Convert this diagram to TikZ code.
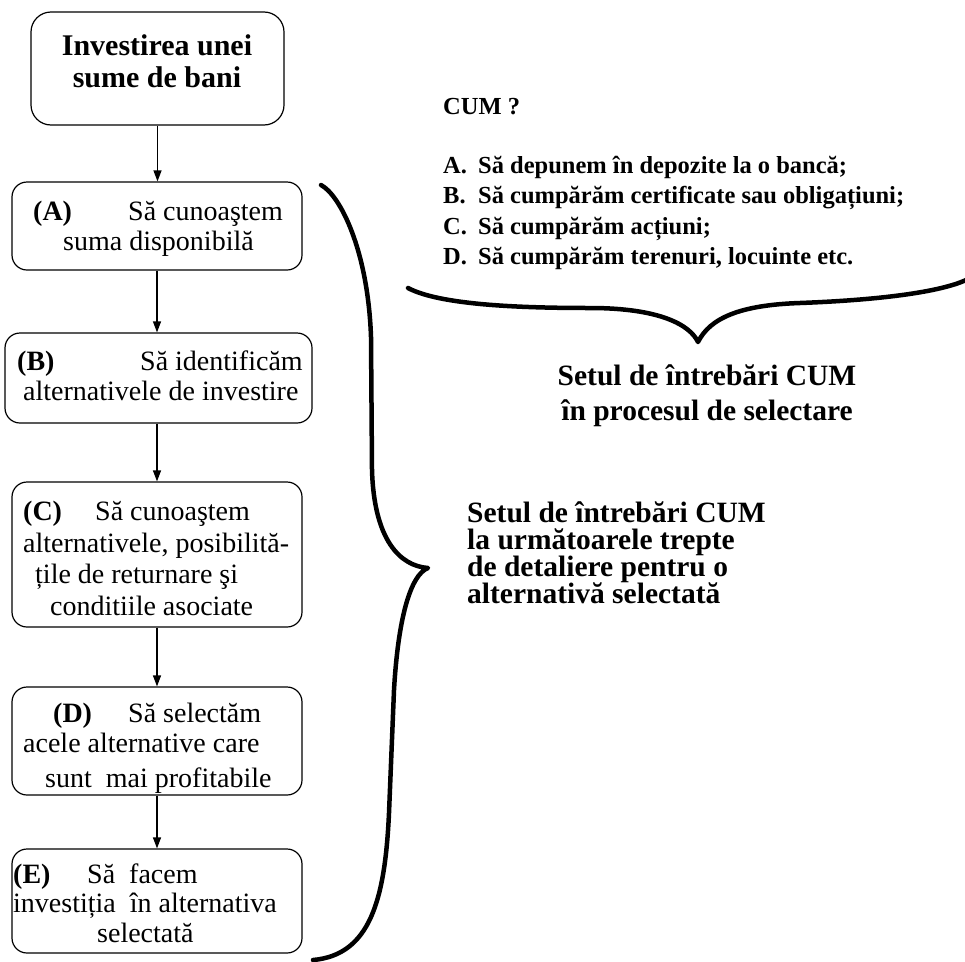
\documentclass[tikz,border=0pt]{standalone}
\usepackage{fontspec}
\setmainfont{Liberation Serif}
\usetikzlibrary{arrows.meta}

\tikzset{
  flowbox/.style={draw, line width=1.2pt, rounded corners=15pt, inner sep=0pt},
  arr/.style={line width=1.2pt, -{Triangle[length=11pt,width=8pt]}},
  brace/.style={line width=4.5pt, line cap=round, line join=round},
  boxtxt/.style={inner sep=0pt, font=\fontsize{28}{31}\selectfont},
  boxlbl/.style={inner sep=0pt, font=\fontsize{28}{31}\selectfont\bfseries},
  titletxt/.style={inner sep=0pt, font=\fontsize{30}{32}\selectfont\bfseries},
  listtxt/.style={inner sep=0pt, font=\fontsize{24.5}{30}\selectfont\bfseries},
  bigtxt/.style={inner sep=0pt, font=\fontsize{29.5}{30}\selectfont\bfseries},
}

\begin{document}
\begin{tikzpicture}[x=1pt, y=-1pt]
\useasboundingbox (0,0) rectangle (965,961);

% flow of boxes on the left
\node[flowbox, rounded corners=20pt, minimum width=253pt, minimum height=113pt] (top) at (157.5,68.5) {};
\node[flowbox, minimum width=290pt, minimum height=88pt]  (bA) at (157,226) {};
\node[flowbox, minimum width=307pt, minimum height=90pt]  (bB) at (158.5,378) {};
\node[flowbox, minimum width=290pt, minimum height=145pt] (bC) at (157,554.5) {};
\node[flowbox, minimum width=290pt, minimum height=104pt] (bE) at (157,901) {};

% title box text
\node[titletxt, anchor=base] (t1) at (157,55) {Investirea unei};
\node[titletxt, anchor=base] (t2) at (157,87) {sume de bani};

% box A
\node[boxlbl, anchor=base west] (a0) at (33,220) {(A)};
\node[boxtxt, anchor=base west] (a1) at (128,220) {Să cunoaştem};
\node[boxtxt, anchor=base west] (a2) at (63,250) {suma disponibilă};

% box B
\node[boxlbl, anchor=base west] (b0) at (17,370) {(B)};
\node[boxtxt, anchor=base west] (b1) at (140,370) {Să identificăm};
\node[boxtxt, anchor=base west] (b2) at (23,400) {alternativele de investire};

% box C
\node[boxlbl, anchor=base west] (c0) at (23,520) {(C)};
\node[boxtxt, anchor=base west] (c1) at (95,520) {Să cunoaştem};
\node[boxtxt, anchor=base west] (c2) at (23,552) {alternativele, posibilită-};
\node[boxtxt, anchor=base west] (c3) at (35,583) {țile de returnare şi};
\node[boxtxt, anchor=base west] (c4) at (50,615) {conditiile asociate};

% box D, its last line is cut by the frame
\begin{scope}
  \clip[rounded corners=15pt] (12,687) rectangle (302,795);
  \node[boxlbl, anchor=base west] (d0) at (53,722) {(D)};
  \node[boxtxt, anchor=base west] (d1) at (128,722) {Să selectăm};
  \node[boxtxt, anchor=base west] (d2) at (23,752) {acele alternative care};
  \node[boxtxt, anchor=base west] (d3) at (45,787) {sunt\ \ mai profitabile};
\end{scope}
\node[flowbox, minimum width=290pt, minimum height=108pt] (bD) at (157,741) {};

% box E
\node[boxlbl, anchor=base west] (e0) at (13,883) {(E)};
\node[boxtxt, anchor=base west] (e1) at (87,883) {Să\ \ facem};
\node[boxtxt, anchor=base west] (e2) at (13,912) {investiția\ \ în alternativa};
\node[boxtxt, anchor=base west] (e3) at (97,942) {selectată};

% connectors
\draw[arr] (top.south) -- (top.south |- bA.north);
\draw[arr] (bA.south) -- (bA.south |- bB.north);
\draw[arr] (bA.south |- bB.south) -- (bA.south |- bC.north);
\draw[arr] (bC.south) -- (bD.north);
\draw[arr] (bD.south) -- (bE.north);

% list of the ways to invest
\node[listtxt, anchor=base west] (q0) at (443,114) {CUM ?};
\node[listtxt, anchor=base west] (qA) at (443,173) {A.};
\node[listtxt, anchor=base west] (qA1) at (478,173) {Să depunem în depozite la o bancă;};
\node[listtxt, anchor=base west] (qB) at (443,203.5) {B.};
\node[listtxt, anchor=base west] (qB1) at (478,203.5) {Să cumpărăm certificate sau obligațiuni;};
\node[listtxt, anchor=base west] (qC) at (443,234) {C.};
\node[listtxt, anchor=base west] (qC1) at (478,234) {Să cumpărăm acțiuni;};
\node[listtxt, anchor=base west] (qD) at (443,264.5) {D.};
\node[listtxt, anchor=base west] (qD1) at (478,264.5) {Să cumpărăm terenuri, locuinte etc.};

% horizontal brace under the list
\draw[brace] (408,288) .. controls (440,305) and (520,308) .. (590,308)
  .. controls (660,308) and (690,325) .. (698,342)
  .. controls (710,318) and (740,305) .. (800,303)
  .. controls (880,300) and (940,292) .. (966,280);

\node[bigtxt, anchor=base] (s1) at (707,385) {Setul de întrebări CUM};
\node[bigtxt, anchor=base] (s2) at (707,420) {în procesul de selectare};

% vertical brace beside the boxes
\draw[brace] (321,185) .. controls (340,195) and (368,250) .. (371,337)
  -- (372,470) .. controls (374,540) and (400,566) .. (428,568)
  .. controls (410,575) and (398,620) .. (394,690)
  -- (389,813) .. controls (385,900) and (370,955) .. (313,960);

\node[bigtxt, anchor=base west] (r1) at (467,522) {Setul de întrebări CUM};
\node[bigtxt, anchor=base west] (r2) at (467,549) {la următoarele trepte};
\node[bigtxt, anchor=base west] (r3) at (467,576) {de detaliere pentru o};
\node[bigtxt, anchor=base west] (r4) at (467,603) {alternativă selectată};
\end{tikzpicture}
\end{document}
